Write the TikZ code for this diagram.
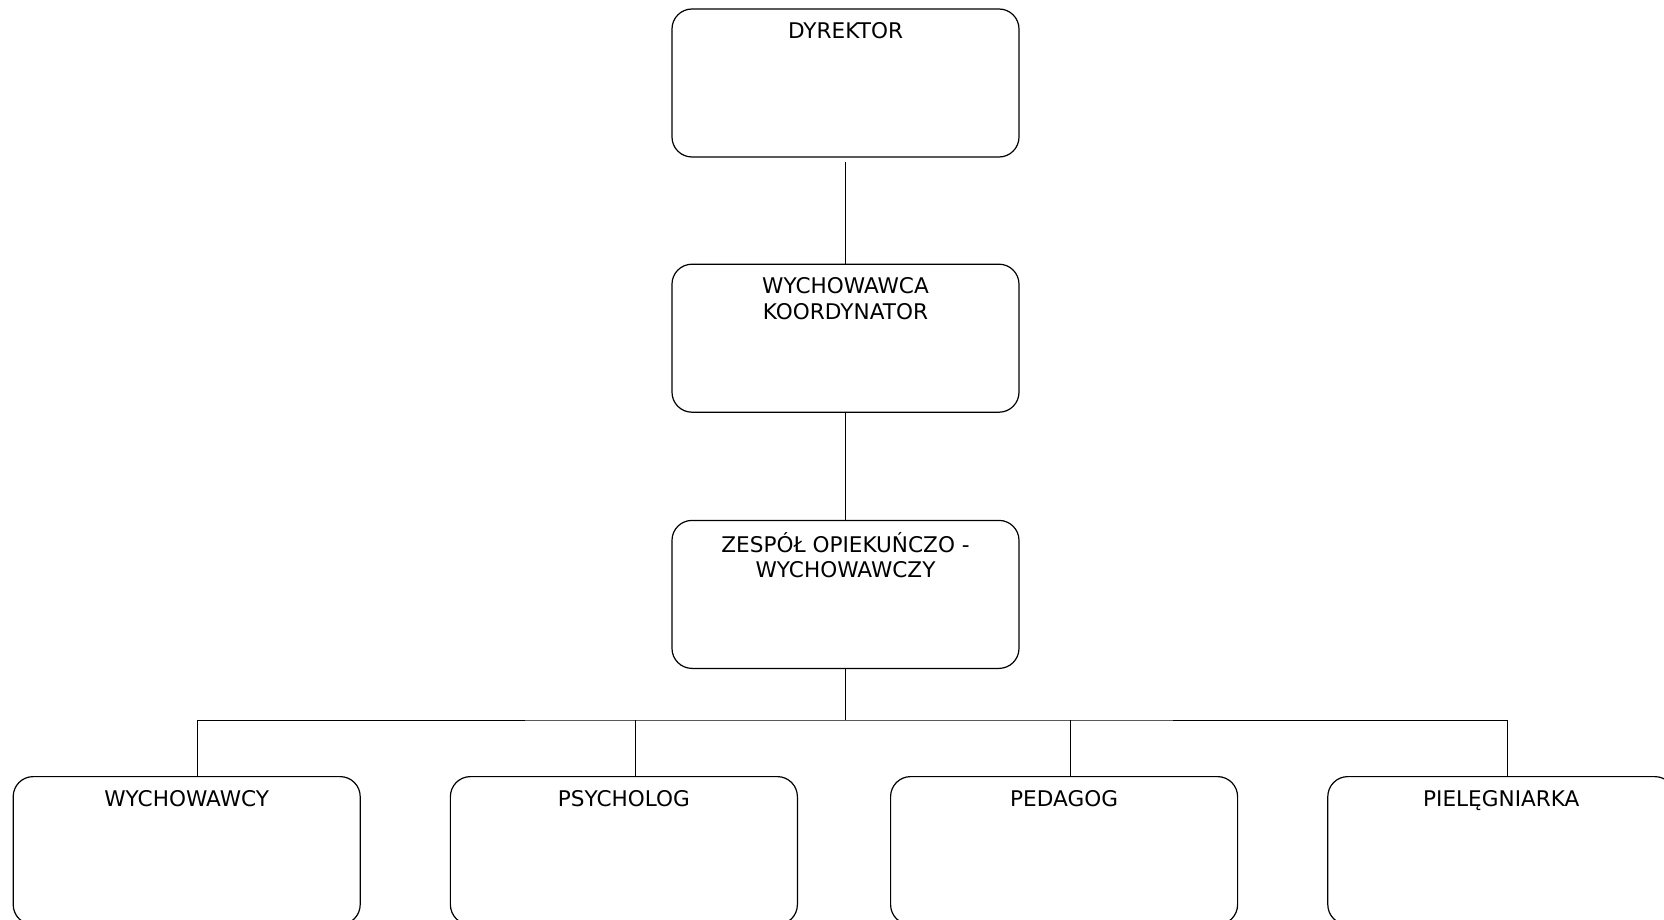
\documentclass[tikz,border=0pt]{standalone}
\usepackage{fontspec}
\setmainfont{DejaVu Sans}
\usetikzlibrary{positioning}

\begin{document}
\begin{tikzpicture}[node distance=53.5pt and 44.5pt,
	box/.style={draw, line width=0.6pt, rounded corners=10pt, minimum width=173.5pt, minimum height=74pt, inner sep=0pt},
	title/.style={anchor=north, inner sep=0pt, yshift=-6pt, align=center, font=\fontsize{10.8}{12.7}\selectfont},
	line/.style={line width=0.5pt}]
		\clip (-422.75pt,41.5pt) rectangle ++(832pt,-460pt);
		\node[box, label={[title]north:\strut DYREKTOR}] (dyr) {};
		\node[box, label={[title]north:\strut WYCHOWAWCA\\KOORDYNATOR}] [below=53pt of dyr] (koord) {};
		\node[box, label={[title]north:\strut ZESPÓŁ OPIEKUŃCZO -\\WYCHOWAWCZY}] [below=of koord] (zespol) {};
		\coordinate[below=25.5pt of zespol] (bus);
		\node[box, label={[title]north:\strut PSYCHOLOG}] [below left=53.5pt and 23.75pt of zespol.south] (psych) {};
		\node[box, label={[title]north:\strut PEDAGOG}] [below right=53.5pt and 22.25pt of zespol.south] (ped) {};
		\node[box, label={[title]north:\strut WYCHOWAWCY}] [left=of psych] (wych) {};
		\node[box, label={[title]north:\strut PIELĘGNIARKA}] [right=of ped] (piel) {};
		% connectors
		\draw[line, shorten <=2pt] (dyr) -- (koord);
		\draw[line] (koord) -- (zespol);
		\draw[line] (zespol) -- (bus);
		\draw[line] ([xshift=5.25pt]wych.north) |- (bus) -| ([xshift=3pt]piel.north);
		\draw[line] ([xshift=5.75pt]psych.north) -- ([xshift=5.75pt]psych.north |- bus);
		\draw[line] ([xshift=3pt]ped.north) -- ([xshift=3pt]ped.north |- bus);
	\end{tikzpicture}
\end{document}
